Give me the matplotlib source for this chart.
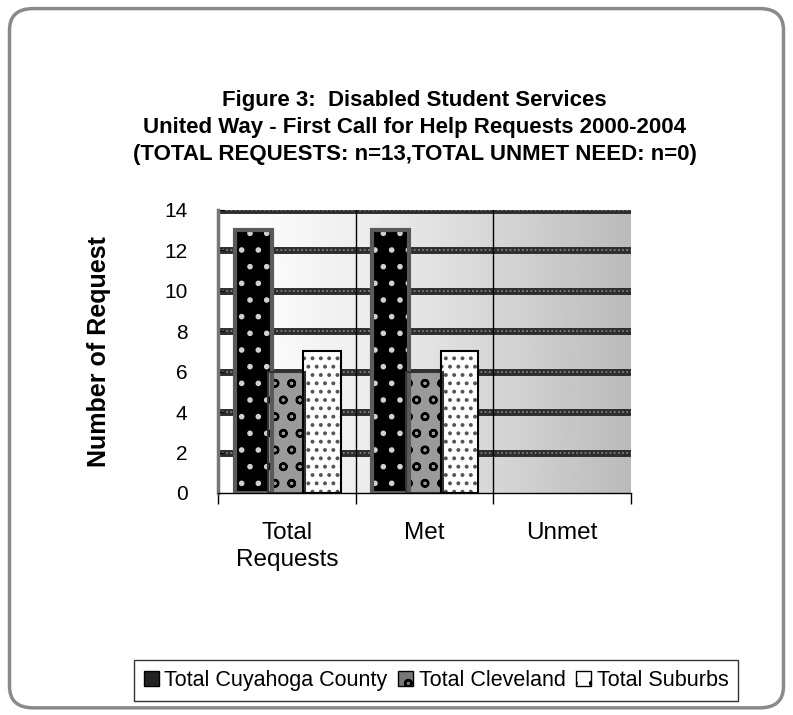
import matplotlib.pyplot as plt
import numpy as np
from matplotlib.patches import FancyBboxPatch, Patch

plt.rcParams['font.family'] = ['Liberation Sans', 'DejaVu Sans']
plt.rcParams['hatch.linewidth'] = 1.6

categories = ['Total\nRequests', 'Met', 'Unmet']
series = ['Total Cuyahoga County', 'Total Cleveland', 'Total Suburbs']
cuyahoga = [13, 13, 0]
cleveland = [6, 6, 0]
suburbs = [7, 7, 0]
yticks = [0, 2, 4, 6, 8, 10, 12, 14]

fig = plt.figure(figsize=(7.93, 7.15), dpi=100)

# rounded outer frame
frame = FancyBboxPatch((0.012, 0.01), 0.976, 0.978, boxstyle='round,pad=0,rounding_size=0.03',
                       transform=fig.transFigure, facecolor='white', edgecolor='#8a8a8a',
                       linewidth=2.5, zorder=0)
fig.patches.append(frame)

ax = fig.add_axes([0.2749, 0.3105, 0.5208, 0.3958])
ax.set_zorder(2)

# plot area background: white on the left fading to gray on the right
grad = np.linspace(0, 1, 256) ** 1.3
ax.imshow(1 - 0.27 * grad[np.newaxis, :], cmap='gray', vmin=0, vmax=1, aspect='auto',
          extent=[-0.5, 2.5, 0, 14], zorder=0)

for y in yticks[1:]:
    ax.axhline(y, color='#2e2e2e', linewidth=5, zorder=1)
    ax.axhline(y, color='#8a8a8a', linewidth=1.2, linestyle=(0, (1, 1.5)), zorder=1)
for xv in [0.5, 1.5]:
    ax.axvline(xv, color='black', linewidth=1, zorder=1)

x = np.arange(len(categories))
w = 0.27
offs = [-0.245, 0.0, 0.255]
fills = ['black', '#9a9a9a', 'white']
hatch_col = ['#d0d0d0', 'black', '#555555']
hatches = ['.', 'o', '..']
edges = ['#5a5a5a', '#333333', 'black']
edge_w = [3.0, 1.5, 1.5]

for vals, off, fc, hc, h, ec, ew in zip([cuyahoga, cleveland, suburbs], offs, fills,
                                        hatch_col, hatches, edges, edge_w):
    layers = [
        ax.bar(x + off, vals, w, color=fc, linewidth=0, zorder=3),
        ax.bar(x + off, vals, w, facecolor='none', edgecolor=hc, hatch=h, linewidth=0, zorder=4),
        ax.bar(x + off, vals, w, facecolor='none', edgecolor=ec, linewidth=ew, zorder=5),
    ]
    # empty bars leave no outline on the axis
    for cont in layers:
        for p in cont:
            if p.get_height() == 0:
                p.set_visible(False)

ax.set_xlim(-0.5, 2.5)
ax.set_ylim(0, 14)
ax.set_yticks(yticks)
ax.set_yticklabels([str(v) for v in yticks], fontsize=15)
ax.set_xticks(x)
ax.set_xticklabels(categories, fontsize=17.5, linespacing=1.3)
ax.tick_params(axis='x', length=0, pad=21)
ax.tick_params(axis='y', length=4, direction='in', pad=22)
ax.set_xticks([-0.5, 0.5, 1.5, 2.5], minor=True)
ax.tick_params(axis='x', which='minor', length=8, direction='out', width=1)
for s in ['top', 'right']:
    ax.spines[s].set_visible(False)
ax.spines['left'].set_color('#777777')
ax.spines['left'].set_linewidth(2.5)
ax.spines['bottom'].set_linewidth(1)

ax.set_ylabel('Number of Request', fontsize=18, fontweight='bold', labelpad=38)

fig.text(0.523, 0.860, 'Figure 3:  Disabled Student Services', ha='center', va='center',
         fontsize=16, fontweight='bold')
fig.text(0.523, 0.822, 'United Way - First Call for Help Requests 2000-2004', ha='center',
         va='center', fontsize=16, fontweight='bold')
fig.text(0.523, 0.784, '(TOTAL REQUESTS: n=13,TOTAL UNMET NEED: n=0)', ha='center',
         va='center', fontsize=16, fontweight='bold')

handles = [Patch(facecolor=fc, edgecolor='black', hatch=h) for fc, h in
           zip(['#222222', '#777777', 'white'], ['', 'o', '.'])]
leg = fig.legend(handles, series, loc='center', bbox_to_anchor=(0.55, 0.048), ncol=3,
                 fontsize=15.5, frameon=True, fancybox=False, edgecolor='black',
                 handlelength=0.7, handleheight=0.7, handletextpad=0.25,
                 columnspacing=0.5, borderpad=0.45)
leg.get_frame().set_linewidth(1)

fig.savefig('out.png', dpi=100)
